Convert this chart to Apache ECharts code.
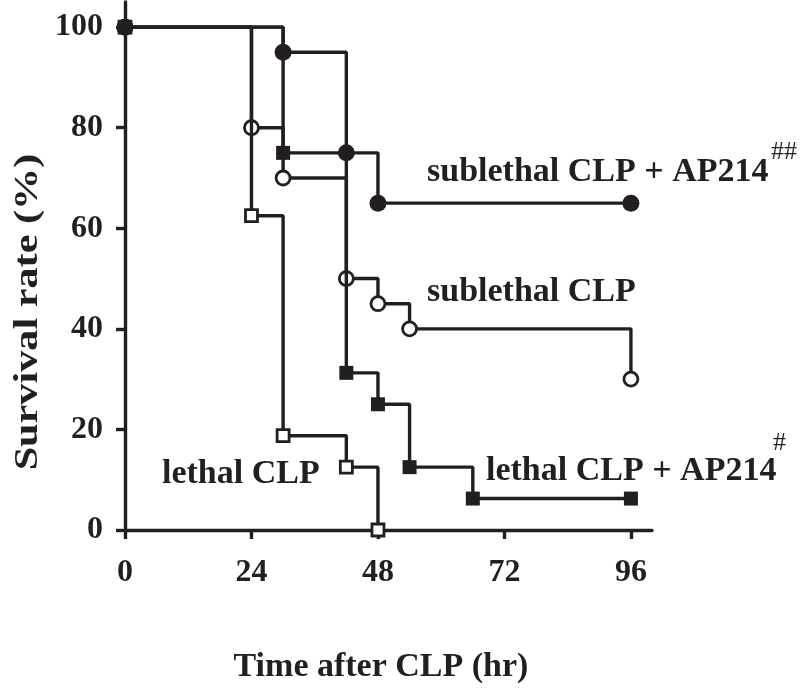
<!DOCTYPE html>
<html>
<head>
<meta charset="utf-8">
<script src="https://cdn.jsdelivr.net/npm/echarts@6/dist/echarts.min.js"></script>
<style>
html,body{margin:0;padding:0;background:#fff;}
#chart{width:800px;height:693px;}
</style>
</head>
<body>
<div id="chart"></div>
<script>
// ---- data ----
const xTicks = [0, 24, 48, 72, 96];
const yTicks = [0, 20, 40, 60, 80, 100];

const subAPTime = [0, 30, 42, 48, 96];
const subAPSurv = [100, 95, 75, 65, 65];

const subTime = [0, 24, 30, 42, 48, 54, 96];
const subSurv = [100, 80, 70, 50, 45, 40, 30];

const lethalTime = [0, 24, 30, 42, 48];
const lethalSurv = [100, 62.5, 18.75, 12.5, 0];

const lethalAPTime = [0, 30, 42, 48, 54, 66, 96];
const lethalAPSurv = [100, 75, 31.25, 25, 12.5, 6.25, 6.25];

const seriesNames = ['sublethal CLP + AP214', 'sublethal CLP', 'lethal CLP', 'lethal CLP + AP214'];
const xTitle = 'Time after CLP (hr)';
const yTitle = 'Survival rate (%)';

// ---- style ----
const INK = '#231f20';
const FONT = '"Liberation Serif", "Times New Roman", serif';

function pairs(xs, ys) { return xs.map((x, i) => [x, ys[i]]); }

function mk(name, xs, ys, symbol, size, filled, z) {
  return {
    name: name,
    type: 'line',
    step: 'end',
    data: pairs(xs, ys),
    symbol: symbol,
    symbolSize: size,
    showAllSymbol: true,
    clip: false,
    z: z,
    lineStyle: { color: INK, width: 3.4 },
    itemStyle: {
      color: filled ? INK : '#ffffff',
      borderColor: INK,
      borderWidth: filled ? 0 : 2.8
    },
    emphasis: { disabled: true },
    animation: false
  };
}

const chart = echarts.init(document.getElementById('chart'), null, { renderer: 'canvas' });

const option = {
  backgroundColor: '#ffffff',
  animation: false,
  grid: { left: 125, top: 2, width: 527, height: 528, containLabel: false, outerBoundsMode: 'none' },
  xAxis: {
    type: 'value',
    min: 0, max: 100,
    splitLine: { show: false },
    axisLine: { show: true, onZero: false, lineStyle: { color: INK, width: 3.4 } },
    axisTick: { show: true, inside: false, length: 9, lineStyle: { color: INK, width: 3.4 }, customValues: xTicks },
    axisLabel: { customValues: xTicks, margin: 27, color: INK, fontFamily: FONT, fontWeight: 'bold', fontSize: 32 }
  },
  yAxis: {
    type: 'value',
    min: 0, max: 105,
    splitLine: { show: false },
    axisLine: { show: true, onZero: false, lineStyle: { color: INK, width: 3.4 } },
    axisTick: { show: true, inside: false, length: 9, lineStyle: { color: INK, width: 3.4 }, customValues: yTicks },
    axisLabel: { customValues: yTicks, margin: 22, color: INK, fontFamily: FONT, fontWeight: 'bold', fontSize: 32 }
  },
  series: [
    mk(seriesNames[1], subTime, subSurv, 'circle', 14, false, 2),
    mk(seriesNames[2], lethalTime, lethalSurv, 'rect', 12, false, 3),
    mk(seriesNames[0], subAPTime, subAPSurv, 'circle', 17, true, 4),
    mk(seriesNames[3], lethalAPTime, lethalAPSurv, 'rect', 14, true, 5)
  ],
  graphic: [
    { type: 'text', x: 427, y: 172, style: { text: seriesNames[0], font: 'bold 34px ' + FONT, fill: INK, align: 'left', verticalAlign: 'middle' } },
    { type: 'text', x: 771, y: 152, style: { text: '##', font: '26px ' + FONT, fill: INK, align: 'left', verticalAlign: 'middle' } },
    { type: 'text', x: 427, y: 292, style: { text: seriesNames[1], font: 'bold 34px ' + FONT, fill: INK, align: 'left', verticalAlign: 'middle' } },
    { type: 'text', x: 486, y: 471, style: { text: seriesNames[3], font: 'bold 34px ' + FONT, fill: INK, align: 'left', verticalAlign: 'middle' } },
    { type: 'text', x: 773, y: 443, style: { text: '#', font: '26px ' + FONT, fill: INK, align: 'left', verticalAlign: 'middle' } },
    { type: 'text', x: 162, y: 474, style: { text: seriesNames[2], font: 'bold 34px ' + FONT, fill: INK, align: 'left', verticalAlign: 'middle' } },
    { type: 'text', x: 381, y: 667, style: { text: xTitle, font: 'bold 34px ' + FONT, fill: INK, align: 'center', verticalAlign: 'middle' } },
    { type: 'text', x: 28, y: 312, rotation: Math.PI / 2, scaleX: 1.28, style: { text: yTitle, font: 'bold 33px ' + FONT, fill: INK, align: 'center', verticalAlign: 'middle' } }
  ]
};
chart.setOption(option);
</script>
</body>
</html>
